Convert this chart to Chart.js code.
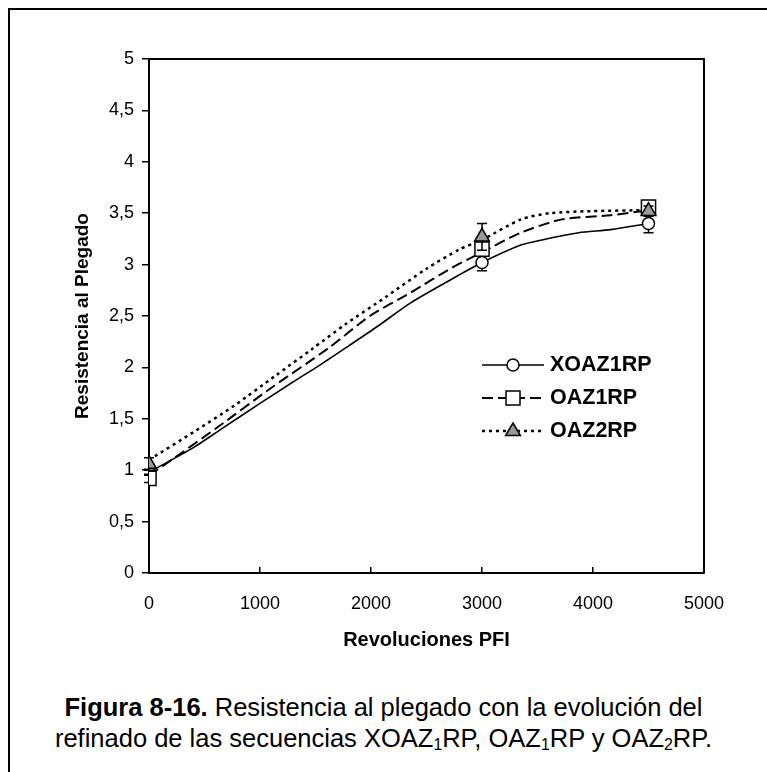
<!DOCTYPE html>
<html>
<head>
<meta charset="utf-8">
<script src="https://cdn.jsdelivr.net/npm/chart.js@4.4.1/dist/chart.umd.min.js"></script>
<style>
  html, body { margin:0; padding:0; width:767px; height:772px; overflow:hidden; background:#fff; }
  body { position:relative; font-family:"Liberation Sans", Arial, sans-serif; }
  #frame { position:absolute; left:8px; top:8px; width:820px; height:820px; border:2px solid #000; }
  #wrap { position:absolute; left:0; top:0; width:767px; height:660px; }
  #legend { position:absolute; left:482px; top:348px; font-weight:bold; font-size:21.5px; color:#000; }
  #legend .row { display:flex; align-items:center; height:33px; }
  #legend svg { display:block; margin-right:6px; }
  #cap { position:absolute; left:0; top:692px; width:767px; text-align:center; font-size:25.5px; line-height:31px; color:#000; }
  #cap sub { font-size:0.62em; vertical-align:-0.2em; line-height:0; }
</style>
</head>
<body>
<div id="frame"></div>
<div id="wrap"><canvas id="c" width="767" height="660"></canvas></div>
<div id="legend"></div>
<div id="cap"><b>Figura 8-16.</b> Resistencia al plegado con la evolución del<br>refinado de las secuencias XOAZ<sub>1</sub>RP, OAZ<sub>1</sub>RP y OAZ<sub>2</sub>RP.</div>
<script>
// ---- data ----
const seriesNames = ['XOAZ1RP', 'OAZ1RP', 'OAZ2RP'];
const markerX = [0, 3000, 4500];
const xoaz1rpY = [0.98, 3.02, 3.40];
const xoaz1rpErr = [0.03, 0.08, 0.09];
const oaz1rpY = [0.92, 3.15, 3.56];
const oaz1rpErr = [0.04, 0.05, 0.05];
const oaz2rpY = [1.06, 3.27, 3.52];
const oaz2rpErr = [0.06, 0.13, 0.05];

// smoothed curves
const xoaz1rpCurveX = [0, 400, 650, 1000, 1300, 1550, 1800, 2060, 2360, 2730, 3000, 3350, 3540, 3870, 4160, 4500];
const xoaz1rpCurveY = [0.98, 1.22, 1.40, 1.65, 1.86, 2.03, 2.21, 2.40, 2.63, 2.86, 3.02, 3.19, 3.24, 3.31, 3.34, 3.40];
const oaz1rpCurveX = [0, 150, 620, 1100, 1620, 1990, 2360, 2730, 3000, 3350, 3720, 4160, 4500];
const oaz1rpCurveY = [0.95, 1.06, 1.42, 1.80, 2.19, 2.50, 2.73, 2.97, 3.12, 3.31, 3.44, 3.48, 3.53];
const oaz2rpCurveX = [0, 400, 770, 1140, 1470, 1770, 2140, 2500, 2800, 3000, 3350, 3610, 3980, 4500];
const oaz2rpCurveY = [1.10, 1.37, 1.63, 1.92, 2.18, 2.42, 2.69, 2.96, 3.15, 3.24, 3.44, 3.50, 3.52, 3.53];

const yTickLabels = ['0', '0,5', '1', '1,5', '2', '2,5', '3', '3,5', '4', '4,5', '5'];
const xTickLabels = ['0', '1000', '2000', '3000', '4000', '5000'];
const xTitle = 'Revoluciones PFI';
const yTitle = 'Resistencia al Plegado';

// ---- helpers ----
const pts = (xs, ys) => xs.map((x, i) => ({x: x, y: ys[i]}));
const FONT = '"Liberation Sans", Arial, sans-serif';

const styles = [
  {dash: [], width: 1.6, point: 'circle', radius: 6, fill: '#fff'},
  {dash: [11, 5], width: 2, point: 'rect', radius: 10, fill: '#fff'},
  {dash: [3, 4], width: 2.5, point: 'triangle', radius: 8.5, fill: '#999'}
];
const markerYs = [xoaz1rpY, oaz1rpY, oaz2rpY];
const errs = [xoaz1rpErr, oaz1rpErr, oaz2rpErr];
const curves = [[xoaz1rpCurveX, xoaz1rpCurveY], [oaz1rpCurveX, oaz1rpCurveY], [oaz2rpCurveX, oaz2rpCurveY]];

const datasets = [];
curves.forEach((c, i) => {
  datasets.push({
    label: seriesNames[i] + ' curve', data: pts(c[0], c[1]), showLine: true,
    borderColor: '#000', borderWidth: styles[i].width, borderDash: styles[i].dash,
    tension: 0.25, pointRadius: 0, fill: false, order: 10 + i
  });
});
const markerOrder = [3, 2, 1];
markerYs.forEach((ys, i) => {
  datasets.push({
    label: seriesNames[i], data: pts(markerX, ys), showLine: false,
    pointStyle: styles[i].point, pointRadius: styles[i].radius,
    pointBackgroundColor: styles[i].fill, pointBorderColor: '#000', pointBorderWidth: 1.5,
    errors: errs[i], isMarker: true, order: markerOrder[i]
  });
});

const errorBars = {
  id: 'errorBars',
  beforeDatasetDraw(chart, args) {
    const ds = chart.data.datasets[args.index];
    if (!ds.isMarker) return;
    const {ctx, scales: {x, y}} = chart;
    ctx.save();
    ctx.strokeStyle = '#000';
    ctx.lineWidth = 1.5;
    ds.data.forEach((p, k) => {
      const e = ds.errors[k];
      const px = x.getPixelForValue(p.x);
      const y1 = y.getPixelForValue(p.y - e), y2 = y.getPixelForValue(p.y + e);
      ctx.beginPath();
      ctx.moveTo(px, y1); ctx.lineTo(px, y2);
      ctx.moveTo(px - 5, y1); ctx.lineTo(px + 5, y1);
      ctx.moveTo(px - 5, y2); ctx.lineTo(px + 5, y2);
      ctx.stroke();
    });
    ctx.restore();
  }
};

const plotBorder = {
  id: 'plotBorder',
  afterDraw(chart) {
    const {ctx, chartArea: a} = chart;
    ctx.save();
    ctx.strokeStyle = '#000';
    ctx.lineWidth = 2;
    ctx.beginPath();
    ctx.moveTo(a.left, a.top); ctx.lineTo(a.right, a.top); ctx.lineTo(a.right, a.bottom);
    ctx.stroke();
    ctx.restore();
  }
};

new Chart(document.getElementById('c'), {
  type: 'scatter',
  data: {datasets},
  options: {
    responsive: false, animation: false, devicePixelRatio: 1,
    layout: {padding: {left: 0, top: 59, right: 63, bottom: 0}},
    plugins: {legend: {display: false}, tooltip: {enabled: false}},
    scales: {
      x: {
        type: 'linear', min: 0, max: 5000,
        afterFit(s) { s.height = 87; },
        ticks: {stepSize: 1000, color: '#000', padding: 26, font: {family: FONT, size: 18},
                callback: (v) => xTickLabels[Math.round(v / 1000)]},
        grid: {drawOnChartArea: false, drawTicks: true, tickLength: -6, color: '#000', lineWidth: 1.5},
        border: {display: true, color: '#000', width: 2},
        title: {display: true, text: xTitle, color: '#000', font: {family: FONT, size: 20, weight: 'bold'},
                padding: {top: 0, bottom: 8}}
      },
      y: {
        type: 'linear', min: 0, max: 5,
        afterFit(s) { s.width = 149; },
        ticks: {stepSize: 0.5, color: '#000', padding: 8, font: {family: FONT, size: 18},
                callback: (v) => yTickLabels[Math.round(v * 2)]},
        grid: {drawOnChartArea: false, drawTicks: true, tickLength: 7, color: '#000', lineWidth: 1.5},
        border: {display: true, color: '#000', width: 2},
        title: {display: true, text: yTitle, color: '#000', font: {family: FONT, size: 19, weight: 'bold'},
                padding: {top: 71, bottom: 0}}
      }
    }
  },
  plugins: [errorBars, plotBorder]
});

// HTML legend built from series names and styles
const leg = document.getElementById('legend');
seriesNames.forEach((name, i) => {
  const st = styles[i];
  const row = document.createElement('div');
  row.className = 'row';
  let marker = '';
  if (st.point === 'circle') marker = '<circle cx="31" cy="10" r="6" fill="#fff" stroke="#000" stroke-width="1.5"/>';
  if (st.point === 'rect') marker = '<rect x="24" y="3" width="14" height="14" fill="#fff" stroke="#000" stroke-width="1.5"/>';
  if (st.point === 'triangle') marker = '<polygon points="31,2 38.4,14.5 23.6,14.5" fill="#999" stroke="#000" stroke-width="1.5"/>';
  row.innerHTML = '<svg width="62" height="20"><line x1="0" y1="10" x2="62" y2="10" stroke="#000" stroke-width="' + st.width + '" stroke-dasharray="' + (st.dash.length ? st.dash.join(',') : 'none') + '"/>' + marker + '</svg><span>' + name + '</span>';
  leg.appendChild(row);
});
</script>
</body>
</html>
